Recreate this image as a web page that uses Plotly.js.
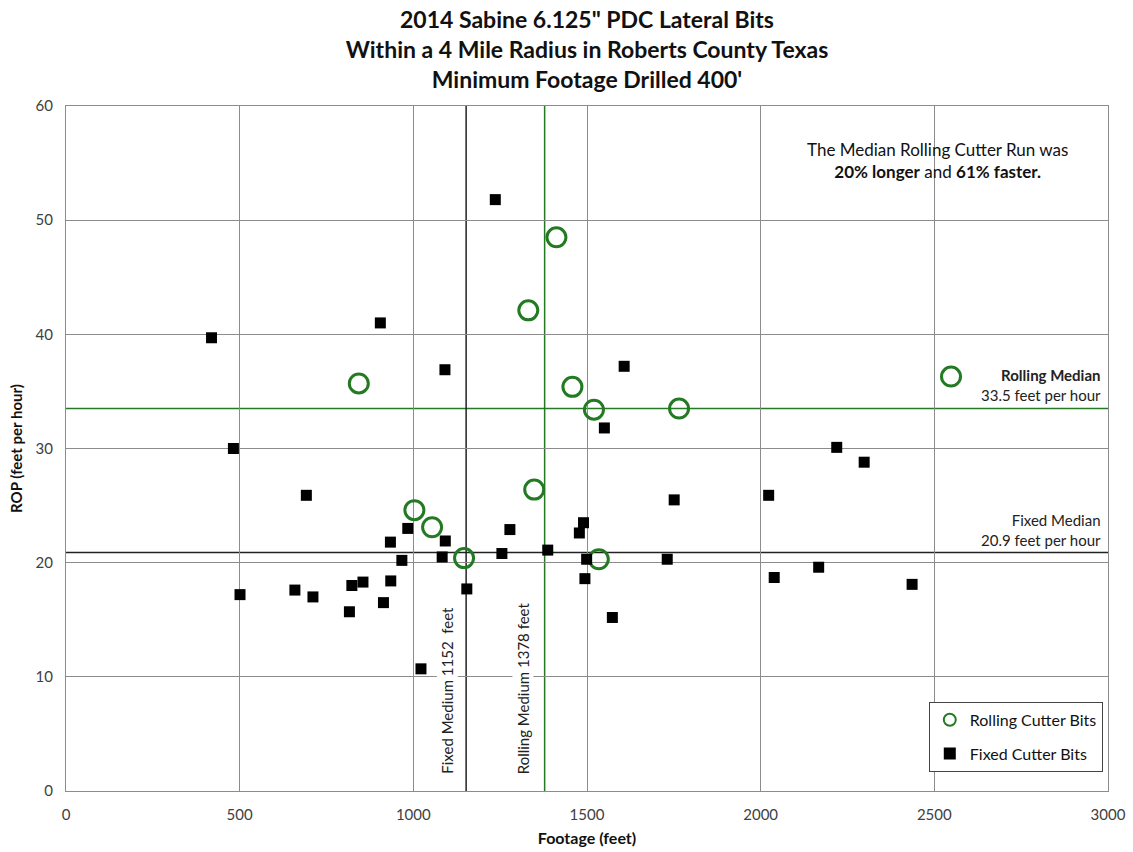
<!DOCTYPE html>
<html>
<head>
<meta charset="utf-8">
<script src="https://cdn.plot.ly/plotly-3.0.1.min.js"></script>
<style>html,body{margin:0;padding:0;background:#fff;}#chart{width:1133px;height:852px;}</style>
</head>
<body>
<div id="chart"></div>
<script>
// Rolling cutter bits (footage ft, ROP ft/hr)
const rollingFootage = [843, 1003, 1054, 1146, 1331, 1348, 1412, 1458, 1520, 1534, 1765, 2548];
const rollingROP     = [35.7, 24.6, 23.1, 20.4, 42.1, 26.4, 48.5, 35.4, 33.4, 20.3, 33.5, 36.3];

// Fixed cutter bits
const fixedFootage = [419, 482, 501, 692, 659, 711, 816, 823, 855, 905, 914, 934, 935, 967, 984, 1022, 1083, 1091, 1092, 1154,
  1236, 1255, 1278, 1387, 1478, 1490, 1499, 1494, 1573, 1550, 1607, 1731, 1751, 2023, 2039, 2167, 2219, 2298, 2436];
const fixedROP = [39.7, 30.0, 17.2, 25.9, 17.6, 17.0, 15.7, 18.0, 18.3, 41.0, 16.5, 21.8, 18.4, 20.2, 23.0, 10.7, 20.5, 36.9, 21.9, 17.7,
  51.8, 20.8, 22.9, 21.1, 22.6, 23.5, 20.3, 18.6, 15.2, 31.8, 37.2, 20.3, 25.5, 25.9, 18.7, 19.6, 30.1, 28.8, 18.1];

// Medians
const medianFootage = {fixed: 1152, rolling: 1378};
const medianROP = {fixed: 20.9, rolling: 33.5};

const xTicks = [0, 500, 1000, 1500, 2000, 2500, 3000];
const yTicks = [0, 10, 20, 30, 40, 50, 60];

const GREEN = '#237a23';
const FONT = 'Lato, "Open Sans", sans-serif';

const traces = [
  {
    x: rollingFootage, y: rollingROP, type: 'scatter', mode: 'markers', name: 'Rolling Cutter Bits', legendgroup: 'r',
    marker: {symbol: 'circle-open', size: 19, color: GREEN, line: {width: 3, color: GREEN}}
  },
  {
    x: fixedFootage, y: fixedROP, type: 'scatter', mode: 'markers', name: 'Fixed Cutter Bits', legendgroup: 'f',
    marker: {symbol: 'square', size: 11, color: '#000'}
  }
];

const shapes = [
  {type: 'line', xref: 'x', yref: 'y', x0: 0, x1: 3000, y0: medianROP.fixed, y1: medianROP.fixed, line: {color: '#222', width: 1.5}, layer: 'below'},
  {type: 'line', xref: 'x', yref: 'y', x0: 0, x1: 3000, y0: medianROP.rolling, y1: medianROP.rolling, line: {color: GREEN, width: 1.5}, layer: 'below'},
  {type: 'line', xref: 'x', yref: 'y', x0: medianFootage.fixed, x1: medianFootage.fixed, y0: 0, y1: 60, line: {color: '#222', width: 1.5}, layer: 'below'},
  {type: 'line', xref: 'x', yref: 'y', x0: medianFootage.rolling, x1: medianFootage.rolling, y0: 0, y1: 60, line: {color: GREEN, width: 1.5}, layer: 'below'}
];

const annotations = [
  {xref: 'paper', yref: 'y', x: 0.836, y: 55.2, xanchor: 'center', yanchor: 'middle', showarrow: false, align: 'center',
   text: 'The Median Rolling Cutter Run was<br><b>20% longer</b> and <b>61% faster.</b>', font: {family: FONT, size: 17, color: '#111'}},
  {xref: 'paper', yref: 'y', x: 0.995, y: 35.6, xanchor: 'right', yanchor: 'middle', showarrow: false, align: 'right',
   text: '<b>Rolling Median</b><br>33.5 feet per hour', font: {family: FONT, size: 15, color: '#222'}},
  {xref: 'paper', yref: 'y', x: 0.995, y: 22.85, xanchor: 'right', yanchor: 'middle', showarrow: false, align: 'right',
   text: 'Fixed Median<br>20.9 feet per hour', font: {family: FONT, size: 15, color: '#222'}},
  {xref: 'x', yref: 'y', x: 1097, y: 1.3, xanchor: 'center', yanchor: 'bottom', textangle: -90, showarrow: false,
   text: 'Fixed Medium 1152&nbsp; feet', bgcolor: '#fff', font: {family: FONT, size: 15, color: '#222'}},
  {xref: 'x', yref: 'y', x: 1316, y: 1.3, xanchor: 'center', yanchor: 'bottom', textangle: -90, showarrow: false,
   text: 'Rolling Medium 1378 feet', bgcolor: '#fff', font: {family: FONT, size: 15, color: '#222'}}
];

const layout = {
  width: 1133, height: 852,
  paper_bgcolor: '#fff', plot_bgcolor: '#fff',
  margin: {l: 66, r: 25, t: 106, b: 61},
  title: {
    text: '<b>2014 Sabine 6.125" PDC Lateral Bits<br>Within a 4 Mile Radius in Roberts County Texas<br>Minimum Footage Drilled 400\'</b>',
    font: {family: FONT, size: 23, color: '#111'},
    x: 0.5, xanchor: 'center', xref: 'paper', yref: 'container', y: 0.967, yanchor: 'top'
  },
  xaxis: {
    range: [0, 3000], tickvals: xTicks, ticktext: xTicks.map(String),
    showgrid: true, gridcolor: '#8c8c8c', gridwidth: 1,
    zeroline: false, showline: true, linecolor: '#8c8c8c', linewidth: 1, mirror: true,
    ticks: '', ticklabelstandoff: 10, tickfont: {family: FONT, size: 15, color: '#404040'},
    title: {text: '<b>Footage (feet)</b>', font: {family: FONT, size: 16, color: '#111'}, standoff: 10}
  },
  yaxis: {
    range: [0, 60], tickvals: yTicks,
    showgrid: true, gridcolor: '#8c8c8c', gridwidth: 1,
    zeroline: false, showline: true, linecolor: '#8c8c8c', linewidth: 1, mirror: true,
    ticks: '', ticklabelstandoff: 9, tickfont: {family: FONT, size: 15, color: '#404040'},
    title: {text: '<b>ROP (feet per hour)</b>', font: {family: FONT, size: 15, color: '#111'}, standoff: 9}
  },
  showlegend: true,
  legend: {
    x: 0.995, y: 0.028, xanchor: 'right', yanchor: 'bottom',
    bgcolor: '#fff', bordercolor: '#444', borderwidth: 1, traceorder: 'grouped', tracegroupgap: 10,
    itemsizing: 'constant',
    font: {family: FONT, size: 16, color: '#111'}, itemwidth: 30
  },
  shapes: shapes,
  annotations: annotations
};

Plotly.newPlot('chart', traces, layout, {displayModeBar: false, staticPlot: true});
</script>
</body>
</html>
